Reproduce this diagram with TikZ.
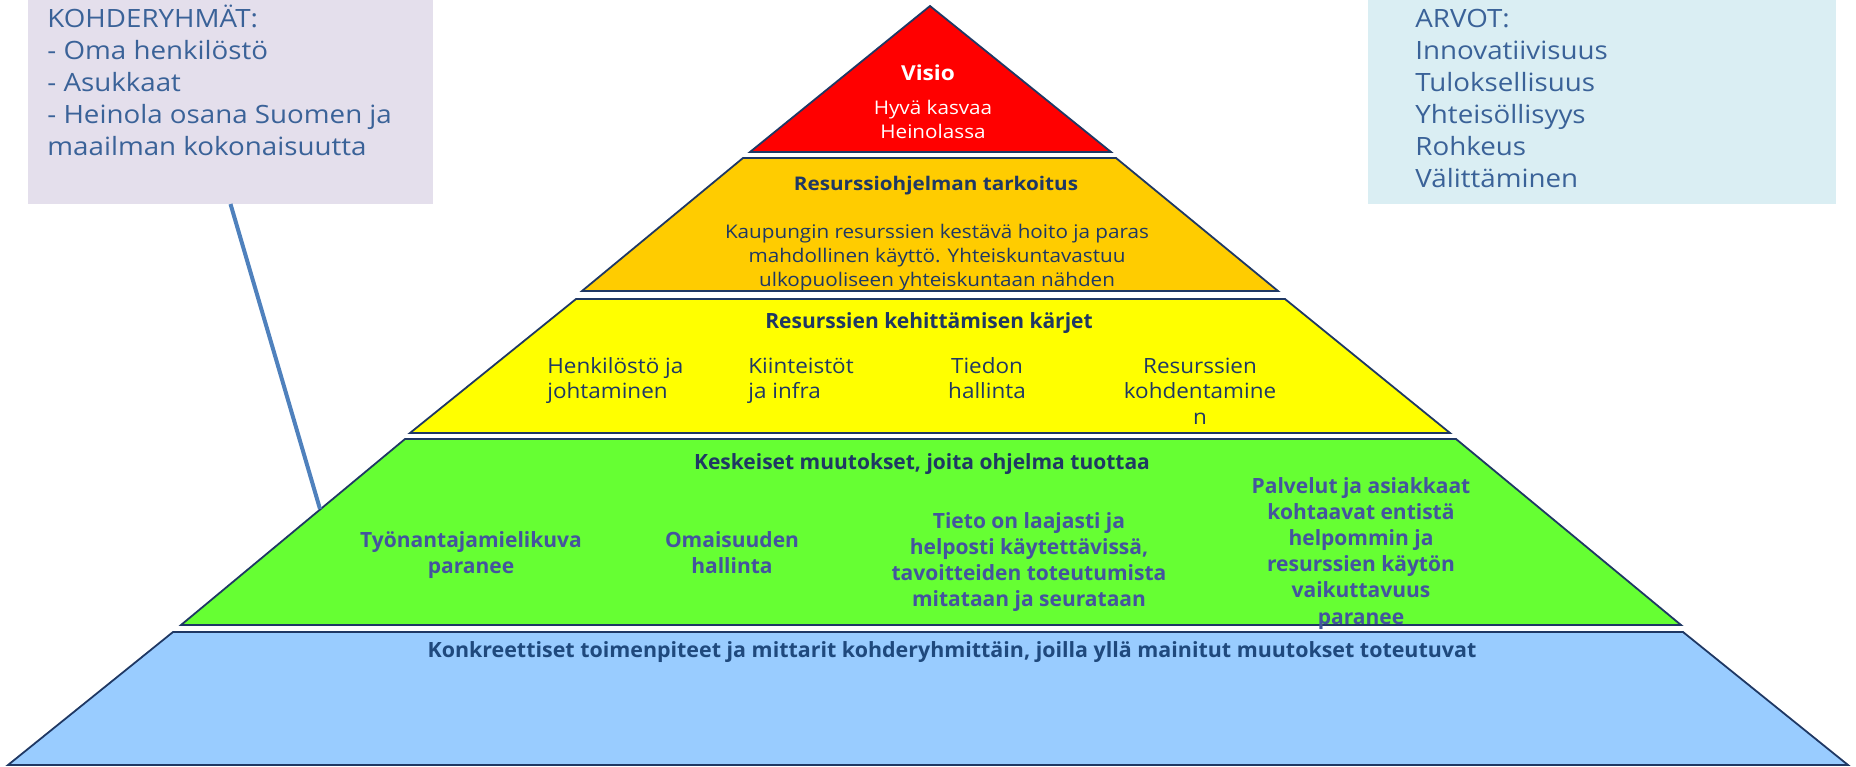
\documentclass[tikz,border=0pt]{standalone}
\usepackage{fontspec}
\setmainfont{Open Sans}
\newfontfamily\widefont[FakeStretch=1.1]{Open Sans}
\newfontfamily\yfont[FakeStretch=1.07]{Open Sans}
\newfontfamily\bluefont[FakeStretch=1.02]{Open Sans}
\definecolor{navy}{HTML}{1F3864}
\definecolor{headblue}{HTML}{1F497D}
\definecolor{boxblue}{HTML}{3A6298}
\definecolor{lavender}{HTML}{E4DFEC}
\definecolor{paleblue}{HTML}{DAEEF3}
\definecolor{lvred}{HTML}{FF0000}
\definecolor{lvorange}{HTML}{FFCC00}
\definecolor{lvyellow}{HTML}{FFFF00}
\definecolor{lvgreen}{HTML}{66FF33}
\definecolor{lvblue}{HTML}{99CCFF}
\definecolor{greentext}{HTML}{44549E}
\definecolor{linkblue}{HTML}{4F81BD}
\begin{document}
\begin{tikzpicture}[x=0.5pt,y=-0.5pt,
  layer/.style={draw=navy, line width=0.9pt, line join=miter},
  infobox/.style={inner sep=0pt, outer sep=0pt, anchor=north west},
  boxtext/.style={anchor=base west, inner sep=0pt, text=boxblue, font=\widefont\fontsize{12.6}{16}\selectfont},
  toptext/.style={anchor=base, inner sep=0pt, font=\widefont\fontsize{9.4}{12}\selectfont},
  ytext/.style={anchor=base, inner sep=0pt, text=navy, font=\yfont\fontsize{10.5}{12.75}\selectfont},
  condhead/.style={anchor=base, inner sep=0pt, text=navy, font=\bfseries\fontsize{10.5}{12.75}\selectfont},
  greenitem/.style={anchor=base, inner sep=0pt, text=greentext, font=\bfseries\fontsize{10.5}{13.1}\selectfont},
  link/.style={draw=linkblue, line width=2pt}
]
\useasboundingbox (0,0) rectangle (1856,766);

% info boxes
\node[infobox, fill=lavender, minimum width=202.5pt, minimum height=102pt] (kbox) at (28,0) {};
\node[infobox, fill=paleblue, minimum width=234pt, minimum height=102pt] (abox) at (1368,0) {};

\node[boxtext] (ktext) at (47,27) {\begin{tabular}[t]{@{}l@{}}KOHDERYHMÄT:\\- Oma henkilöstö\\- Asukkaat\\- Heinola osana Suomen ja\\maailman kokonaisuutta\end{tabular}};
\node[boxtext] (atext) at (1415,27) {\begin{tabular}[t]{@{}l@{}}ARVOT:\\Innovatiivisuus\\Tuloksellisuus\\Yhteisöllisyys\\Rohkeus\\Välittäminen\end{tabular}};

% pyramid layers
\draw[layer, fill=lvred] (930,6) -- (750,152) -- (1111,152) -- cycle;
\draw[layer, fill=lvorange] (743,158) -- (1116,158) -- (1278,291) -- (582,291) -- cycle;
\draw[layer, fill=lvyellow] (576,299) -- (1285,299) -- (1450,433) -- (410,433) -- cycle;
\draw[layer, fill=lvgreen] (405,439) -- (1456,439) -- (1681,625) -- (181,625) -- cycle;
\draw[layer, fill=lvblue] (173,632) -- (1683,632) -- (1848,765) -- (8,765) -- cycle;

% connector
\coordinate (gedge) at (320,509);
\draw[link] (kbox.south) -- (gedge);

% Visio
\node[toptext, text=white, font=\widefont\bfseries\fontsize{10.3}{12}\selectfont] (visio) at (928,80) {Visio};
\node[toptext, text=white] (visiob) at (933,114) {\begin{tabular}[t]{@{}c@{}}Hyvä kasvaa\\Heinolassa\end{tabular}};

% Orange
\node[toptext, text=navy, font=\widefont\bfseries\fontsize{9.4}{12}\selectfont] (oh) at (936,190) {Resurssiohjelman tarkoitus};
\node[toptext, text=navy] (ob) at (937,238) {\begin{tabular}[t]{@{}c@{}}Kaupungin resurssien kestävä hoito ja paras\\mahdollinen käyttö. Yhteiskuntavastuu\\ulkopuoliseen yhteiskuntaan nähden\end{tabular}};

% Yellow
\node[condhead] (yh) at (929,328) {Resurssien kehittämisen kärjet};
\node[ytext, anchor=base west] (y1) at (547,373) {\begin{tabular}[t]{@{}l@{}}Henkilöstö ja\\johtaminen\end{tabular}};
\node[ytext, anchor=base west] (y2) at (748,373) {\begin{tabular}[t]{@{}l@{}}Kiinteistöt\\ja infra\end{tabular}};
\node[ytext] (y3) at (987,373) {\begin{tabular}[t]{@{}c@{}}Tiedon\\hallinta\end{tabular}};
\node[ytext] (y4) at (1200,373) {\begin{tabular}[t]{@{}c@{}}Resurssien\\kohdentamine\\n\end{tabular}};

% Green
\node[condhead] (gh) at (922,469) {Keskeiset muutokset, joita ohjelma tuottaa};
\node[greenitem] (g1) at (471,547) {\begin{tabular}[t]{@{}c@{}}Työnantajamielikuva\\paranee\end{tabular}};
\node[greenitem] (g2) at (732,547) {\begin{tabular}[t]{@{}c@{}}Omaisuuden\\hallinta\end{tabular}};
\node[greenitem] (g3) at (1029,528) {\begin{tabular}[t]{@{}c@{}}Tieto on laajasti ja\\helposti käytettävissä,\\tavoitteiden toteutumista\\mitataan ja seurataan\end{tabular}};
\node[greenitem] (g4) at (1361,493) {\begin{tabular}[t]{@{}c@{}}Palvelut ja asiakkaat\\kohtaavat entistä\\helpommin ja\\resurssien käytön\\vaikuttavuus\\paranee\end{tabular}};

% Blue
\node[condhead, text=headblue, font=\bluefont\bfseries\fontsize{10.5}{12.75}\selectfont] (bh) at (952,657) {Konkreettiset toimenpiteet ja mittarit kohderyhmittäin, joilla yllä mainitut muutokset toteutuvat};
\end{tikzpicture}
\end{document}
